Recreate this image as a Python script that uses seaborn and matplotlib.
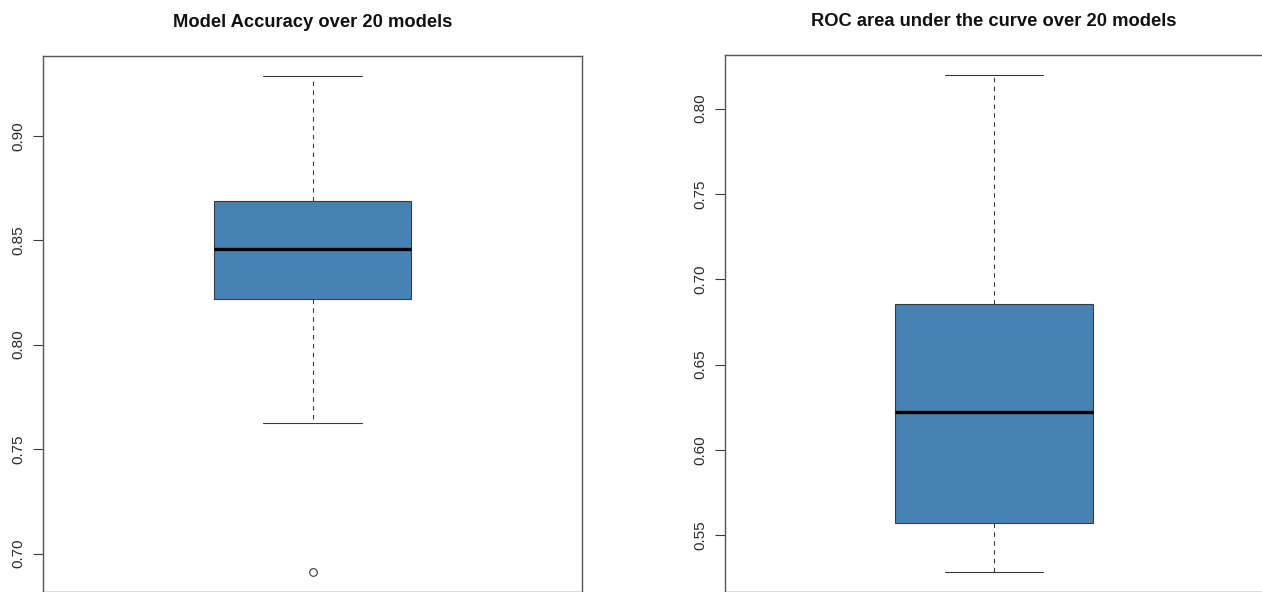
import matplotlib
matplotlib.use("Agg")
import matplotlib.pyplot as plt
import seaborn as sns

# Summary statistics of the 20 fitted models
panel_titles = ["Model Accuracy over 20 models", "ROC area under the curve over 20 models"]
acc_five = [0.7623, 0.8217, 0.8456, 0.8690, 0.9287]   # low whisker, Q1, median, Q3, high whisker
acc_outliers = [0.6911]
roc_five = [0.5285, 0.5571, 0.6220, 0.6858, 0.8197]
roc_outliers = []
acc_ticks = [0.70, 0.75, 0.80, 0.85, 0.90]
roc_ticks = [0.55, 0.60, 0.65, 0.70, 0.75, 0.80]

sns.set_theme(style="white")
plt.rcParams["font.family"] = ["Liberation Sans", "DejaVu Sans"]

FILL = "#4682B4"
INK = "#3a3a3a"


def stats_dict(five, outliers):
    lo, q1, med, q3, hi = five
    return {"whislo": lo, "q1": q1, "med": med, "q3": q3, "whishi": hi,
            "fliers": outliers, "label": ""}


def draw_panel(ax, five, outliers, ticks, title):
    ax.bxp([stats_dict(five, outliers)], positions=[1], widths=[0.367],
           capwidths=[0.183], patch_artist=True, showfliers=True,
           boxprops=dict(facecolor=FILL, edgecolor=INK, linewidth=0.8),
           medianprops=dict(color="black", linewidth=2.4, solid_capstyle="butt"),
           whiskerprops=dict(color=INK, linewidth=0.8, linestyle=(0, (4, 4))),
           capprops=dict(color=INK, linewidth=0.8),
           flierprops=dict(marker="o", markerfacecolor="none",
                           markeredgecolor=INK, markersize=5.5, markeredgewidth=0.8))
    values = list(five) + list(outliers)
    lo, hi = min(values), max(values)
    pad = 0.04 * (hi - lo)
    ax.set_ylim(lo - pad, hi + pad)
    ax.set_xlim(0.5, 1.5)
    ax.set_xticks([])
    ax.set_yticks(ticks)
    ax.set_yticklabels([f"{t:.2f}" for t in ticks], rotation=90, va="center",
                       fontsize=11, color="#2a2a2a")
    ax.tick_params(axis="y", left=True, length=7, width=0.8, color=INK, pad=6)
    for sp in ax.spines.values():
        sp.set_color("#555555")
        sp.set_linewidth(1.0)
    ax.set_facecolor("white")
    ax.set_title(title, fontsize=13.2, fontweight="bold", color="#111111", pad=21)


W, H = 1262, 592
fig = plt.figure(figsize=(W / 100, H / 100), dpi=100)
ax1 = fig.add_axes([43 / W, 0.0, (582 - 43) / W, (H - 56) / H])
ax2 = fig.add_axes([725 / W, 0.0, (1263 - 725) / W, (H - 55) / H])

draw_panel(ax1, acc_five, acc_outliers, acc_ticks, panel_titles[0])
draw_panel(ax2, roc_five, roc_outliers, roc_ticks, panel_titles[1])

fig.savefig("out.png", dpi=100, facecolor="white")
